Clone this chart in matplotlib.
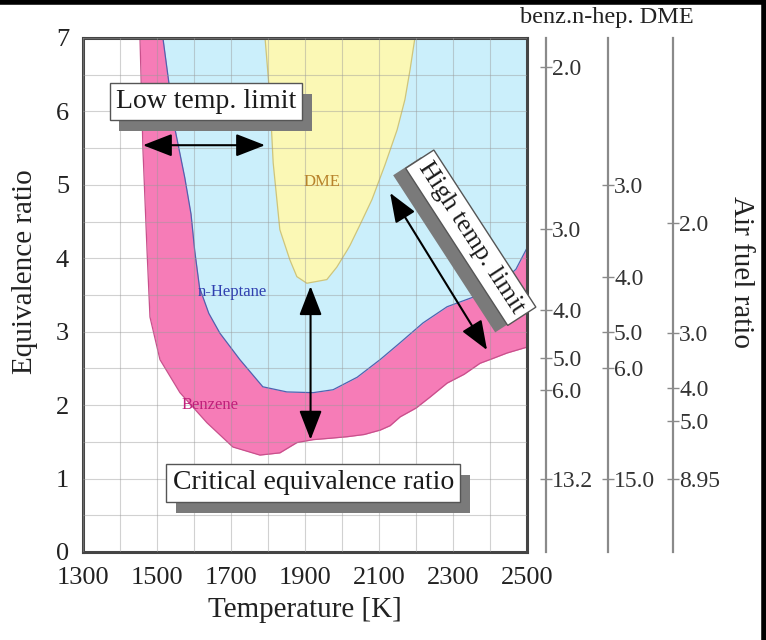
import matplotlib
matplotlib.use("Agg")
import matplotlib.pyplot as plt
import matplotlib.patheffects as pe
from matplotlib.lines import Line2D

plt.rcParams["font.family"] = ["Liberation Serif", "DejaVu Serif"]

# boundaries: (temperature K, equivalence ratio)
benz_T = [1454, 1462, 1473, 1481, 1508, 1562, 1635, 1705, 1778, 1832, 1878,
          1922, 1970, 2014, 2060, 2103, 2130, 2157, 2200, 2238, 2284, 2330,
          2373, 2410, 2446, 2500]
benz_phi = [7.0, 5.48, 4.11, 3.20, 2.62, 2.17, 1.76, 1.43, 1.32, 1.35, 1.49,
            1.53, 1.55, 1.57, 1.60, 1.66, 1.72, 1.84, 1.96, 2.11, 2.30, 2.42,
            2.57, 2.64, 2.71, 2.79]

hep_T = [1516, 1549, 1575, 1592, 1602, 1615, 1640, 1670, 1724, 1786, 1851,
         1922, 1976, 2041, 2103, 2157, 2219, 2284, 2354, 2427, 2470, 2500]
hep_phi = [7.0, 5.75, 5.1, 4.6, 4.1, 3.6, 3.25, 2.98, 2.62, 2.25, 2.18,
           2.17, 2.21, 2.38, 2.62, 2.85, 3.12, 3.34, 3.47, 3.66, 3.85, 4.14]

dme_T = [1792, 1805, 1814, 1832, 1859, 1878, 1905, 1959, 1986, 2014, 2022,
         2049, 2081, 2116, 2149, 2170, 2184, 2197]
dme_phi = [7.0, 6.2, 5.3, 4.39, 3.98, 3.75, 3.66, 3.71, 3.88, 4.11, 4.18,
           4.46, 4.80, 5.27, 5.75, 6.16, 6.57, 7.0]

# air fuel ratio scales (stoichiometric AFR and tick labels)
fuels = ["benz", "n-hep", "DME"]
stoich_afr = [13.2, 15.0, 8.95]
afr_ticks = [[2.0, 3.0, 4.0, 5.0, 6.0, 13.2],
             [3.0, 4.0, 5.0, 6.0, 15.0],
             [2.0, 3.0, 4.0, 5.0, 8.95]]
afr_labels = [["2.0", "3.0", "4.0", "5.0", "6.0", "13.2"],
              ["3.0", "4.0", "5.0", "6.0", "15.0"],
              ["2.0", "3.0", "4.0", "5.0", "8.95"]]
afr_axis_pos = [1.043, 1.182, 1.329]

x_ticks = [1300, 1500, 1700, 1900, 2100, 2300, 2500]
y_ticks = [0, 1, 2, 3, 4, 5, 6, 7]

W, H = 766, 640
fig = plt.figure(figsize=(W / 100, H / 100), dpi=100)
ax = fig.add_axes([83 / W, 1 - 552 / H, 444 / W, (552 - 38) / H])

ax.fill_between(benz_T, benz_phi, 7, color="#f67cb7", lw=0)
ax.plot(benz_T, benz_phi, color="#c8508c", lw=0.9)
ax.fill_between(hep_T, hep_phi, 7, color="#cbeffb", lw=0)
ax.plot(hep_T, hep_phi, color="#4f62b0", lw=0.9)
ax.fill(dme_T, dme_phi, color="#fbf8b5", ec="#cfc57a", lw=0.9)

ax.set_xlim(1300, 2500)
ax.set_ylim(0, 7)
ax.set_xticks(x_ticks)
ax.set_yticks(y_ticks)
ax.set_xticks(range(1300, 2501, 100), minor=True)
ax.set_yticks([v / 2 for v in range(15)], minor=True)
ax.set_axisbelow(False)
ax.grid(True, which="both", color="#9a9a9a", alpha=0.45, lw=0.8)
ax.tick_params(which="both", length=0, labelsize=19, colors="#222222")
ax.tick_params(axis="x", pad=11)
ax.tick_params(axis="y", pad=10)
for s in ax.spines.values():
    s.set_color("#444444")
    s.set_linewidth(2.2)

# in-plot labels
ax.text(1946, 5.04, "DME", color="#b8842c", fontsize=12, ha="center", va="center")
ax.text(1703, 3.54, "n-Heptane", color="#3040b0", fontsize=12, ha="center", va="center")
ax.text(1643, 2.0, "Benzene", color="#c0207a", fontsize=12, ha="center", va="center")

arrow = dict(arrowstyle="<|-|>,head_length=0.9,head_width=0.35", color="black",
             lw=1.5, mutation_scale=20, shrinkA=0, shrinkB=0)
ax.annotate("", xy=(1462, 5.54), xytext=(1792, 5.54), arrowprops=arrow)
ax.annotate("", xy=(1915, 3.62), xytext=(1915, 1.53), arrowprops=arrow)
ax.annotate("", xy=(2130, 4.89), xytext=(2392, 2.75), arrowprops=arrow)


def shadow_box(x, y, s, size, rot=0, off=(7, -8)):
    t = ax.text(x, y, s, fontsize=size, rotation=rot, ha="center", va="center",
                color="#1a1a1a", rotation_mode="anchor",
                bbox=dict(boxstyle="square,pad=0.22", fc="white", ec="#555555", lw=1))
    t.get_bbox_patch().set_path_effects(
        [pe.SimplePatchShadow(offset=off, shadow_rgbFace="#7a7a7a", alpha=1),
         pe.Normal()])
    return t


shadow_box(1632, 6.14, "Low temp. limit", 20)
shadow_box(1922, 0.94, "Critical equivalence ratio", 20)
shadow_box(2348, 4.28, "High temp. limit", 19, rot=-57, off=(-9, -5))

# air fuel ratio scales on the right
for stoich, ticks, labels, pos in zip(stoich_afr, afr_ticks, afr_labels, afr_axis_pos):
    tw = ax.twinx()
    tw.set_ylim(0, 7)
    for side in ("top", "bottom", "left"):
        tw.spines[side].set_visible(False)
    tw.spines["right"].set_position(("axes", pos))
    tw.spines["right"].set_color("#8a8a8a")
    tw.spines["right"].set_linewidth(1.6)
    tw.set_yticks([stoich / a for a in ticks])
    tw.set_yticklabels(labels)
    tw.tick_params(axis="y", direction="inout", length=9, width=1, color="#8a8a8a",
                   labelsize=17, labelcolor="#333333", pad=0)

fig.text(520 / W, 1 - 18 / H, "benz.n-hep. DME", fontsize=17.5, ha="left",
         va="center", color="#222222")
fig.text(741 / W, 1 - 272 / H, "Air fuel ratio", fontsize=21, rotation=-90,
         ha="center", va="center", color="#222222")
fig.text(305 / W, 1 - 610 / H, "Temperature [K]", fontsize=21, ha="center",
         va="center", color="#222222")
fig.text(25 / W, 1 - 272 / H, "Equivalence ratio", fontsize=21, rotation=90,
         ha="center", va="center", color="#222222")

# black frame on the top and right edges of the scan
fig.add_artist(Line2D([0, 1], [0.997, 0.997], transform=fig.transFigure,
                      color="black", lw=4))
fig.add_artist(Line2D([0.997, 0.997], [0, 1], transform=fig.transFigure,
                      color="black", lw=4))

fig.savefig("out.png", dpi=100)
